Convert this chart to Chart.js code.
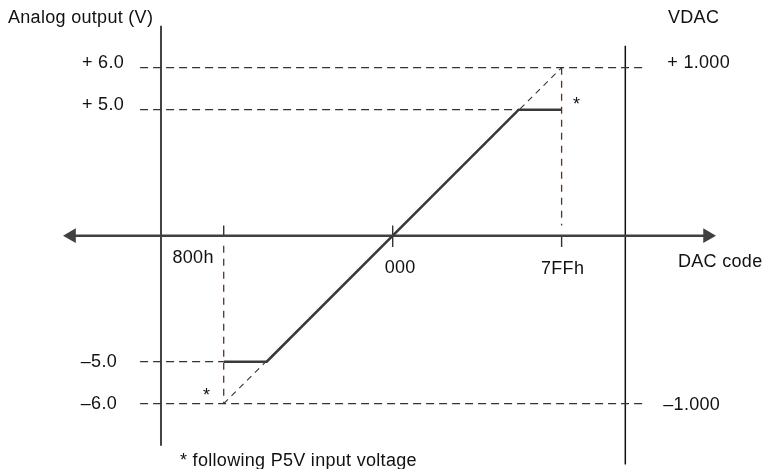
<!DOCTYPE html>
<html>
<head>
<meta charset="utf-8">
<script src="https://cdn.jsdelivr.net/npm/chart.js@4/dist/chart.umd.min.js"></script>
<style>
  html, body { margin: 0; padding: 0; background: #fff; }
  canvas { display: block; }
</style>
</head>
<body>
<canvas id="dacChart" width="766" height="469"></canvas>
<script>
// DAC code (12 bit, two's complement) -> analog output
const codeTicks = [-2048, 0, 2047];
const codeLabels = ['800h', '000', '7FFh'];
const voltLevels = [6, 5, -5, -6];
const voltLabels = ['+ 6.0', '+ 5.0', '\u20135.0', '\u20136.0'];
const vdacLevels = [6, -6];
const vdacLabels = ['+ 1.000', '\u20131.000'];

// real output, clamped at +/-5 V
const outputCodes = [-2048, -1527, 1527, 2047];
const outputVolts = [-5, -5, 5, 5];
// unclamped line (follows P5V)
const idealCodes = [-2048, 2047];
const idealVolts = [-6, 6];

// where the drawing frame sits, in code / volt units
const leftAxisCode = -2808;
const rightAxisCode = 2819;
const arrowCodes = [-3892, 3815];
const guideStartCode = -3061;
const guideEndCode = 3081;

// 0..5 V is drawn squeezed and 5..6 V stretched, like in the datasheet
function squash(v) {
    const a = Math.abs(v);
    const u = a <= 5 ? a * 0.6 : 3 + (a - 5);
    return v < 0 ? -u : u;
}
function unsquash(u) {
    const a = Math.abs(u);
    const v = a <= 3 ? a / 0.6 : 5 + (a - 3);
    return u < 0 ? -v : v;
}

class SchematicScale extends Chart.LinearScale {
    configure() {
        super.configure();
        this._startValue = squash(this.min);
        this._valueRange = squash(this.max) - squash(this.min);
    }
    getPixelForValue(value) {
        if (value === null) return NaN;
        return this.getPixelForDecimal((squash(value) - this._startValue) / this._valueRange);
    }
    getValueForPixel(pixel) {
        return unsquash(this._startValue + this.getDecimalForPixel(pixel) * this._valueRange);
    }
}
SchematicScale.id = 'schematic';
SchematicScale.defaults = Chart.LinearScale.defaults;
Chart.register(SchematicScale);

const pts = (xs, ys) => xs.map((x, i) => ({ x, y: ys[i] }));

const INK = '#3a3a3a';
const DASH = '#333333';
const BROWN = '#4e3a2c';

function line(data, color, width, dash) {
    return {
        data,
        showLine: true,
        borderColor: color,
        borderWidth: width,
        borderDash: dash || [],
        pointRadius: 0,
        fill: false,
        tension: 0,
    };
}

const datasets = [];

// transfer curve on top
datasets.push(line(pts(outputCodes, outputVolts), INK, 2.6));
datasets.push(line(pts(idealCodes, idealVolts), DASH, 1.1, [6, 5]));

// horizontal code axis with arrow heads
datasets.push({
    data: pts(arrowCodes, [0, 0]),
    showLine: true,
    borderColor: '#404040',
    borderWidth: 2.5,
    pointStyle: 'triangle',
    pointRadius: 8.5,
    pointRotation: [-90, 90],
    pointBackgroundColor: '#404040',
    pointBorderWidth: 0,
});

// tick marks on the code axis
datasets.push(line(pts([codeTicks[0], codeTicks[0]], [0.4, 0]), '#333', 1.4));
datasets.push(line(pts([codeTicks[1], codeTicks[1]], [0.4, -0.45]), '#333', 1.4));
datasets.push(line(pts([codeTicks[2], codeTicks[2]], [0, -0.45]), '#333', 1.4));

// vertical dashed guides down/up to the rails
datasets.push(line(pts([codeTicks[0], codeTicks[0]], [-0.4, -6]), BROWN, 1.3, [7, 6]));
datasets.push(line(pts([codeTicks[2], codeTicks[2]], [6, 0.4]), BROWN, 1.3, [7, 6]));

// horizontal dashed guides
datasets.push(line(pts([guideStartCode, guideEndCode], [6, 6]), DASH, 1.2, [8, 5]));
datasets.push(line(pts([guideStartCode, codeTicks[2]], [5, 5]), DASH, 1.2, [8, 5]));
datasets.push(line(pts([guideStartCode, codeTicks[0]], [-5, -5]), DASH, 1.2, [8, 5]));
datasets.push(line(pts([guideStartCode, guideEndCode], [-6, -6]), DASH, 1.2, [8, 5]));

// voltage axes
datasets.push(line(pts([leftAxisCode, leftAxisCode], [7.0, -7.0]), '#444', 2));
datasets.push(line(pts([rightAxisCode, rightAxisCode], [6.52, -7.45]), '#111', 1.5));

const FONT = '18px "Liberation Sans", Arial, sans-serif';

const labelPlugin = {
    id: 'schematicLabels',
    afterDraw(chart) {
        const { ctx } = chart;
        const x = chart.scales.x;
        const y = chart.scales.y;
        const ax = x.getPixelForValue(leftAxisCode);
        const rx = x.getPixelForValue(rightAxisCode);
        const y0 = y.getPixelForValue(0);

        ctx.save();
        ctx.font = FONT;
        ctx.letterSpacing = '0.3px';
        ctx.fillStyle = '#111';
        ctx.textBaseline = 'middle';

        ctx.textAlign = 'left';
        ctx.fillText('Analog output (V)', 8, 18);
        ctx.fillText('VDAC', 668, 18);

        // voltage labels, left side (upper ones sit a bit above their line)
        ctx.textAlign = 'right';
        voltLevels.forEach((v, i) => {
            const off = v > 0 ? 37 : 44;
            const dy = v > 0 ? -5 : 0;
            ctx.fillText(voltLabels[i], ax - off, y.getPixelForValue(v) + dy);
        });

        // VDAC labels, right side
        ctx.textAlign = 'left';
        vdacLevels.forEach((v, i) => {
            const off = v > 0 ? 42 : 38;
            const dy = v > 0 ? -5 : 1;
            ctx.fillText(vdacLabels[i], rx + off, y.getPixelForValue(v) + dy);
        });

        // code labels
        ctx.textAlign = 'right';
        ctx.fillText(codeLabels[0], x.getPixelForValue(codeTicks[0]) - 10, y0 + 22);
        ctx.textAlign = 'left';
        ctx.fillText(codeLabels[1], x.getPixelForValue(codeTicks[1]) - 8, y0 + 32);
        ctx.textAlign = 'center';
        ctx.fillText(codeLabels[2], x.getPixelForValue(codeTicks[2]) + 1, y0 + 33);
        ctx.textAlign = 'left';
        ctx.fillText('DAC code', 678, y0 + 26);

        // asterisks at the P5V limited ends
        ctx.textAlign = 'center';
        ctx.fillText('*', x.getPixelForValue(codeTicks[2]) + 15, y.getPixelForValue(5.2) + 4);
        ctx.fillText('*', x.getPixelForValue(codeTicks[0]) - 17, y.getPixelForValue(-5.75) + 3);

        ctx.textAlign = 'left';
        ctx.fillText('* following P5V input voltage', 180, 461);
        ctx.restore();
    }
};

new Chart(document.getElementById('dacChart'), {
    type: 'scatter',
    data: { datasets },
    options: {
        responsive: false,
        animation: false,
        events: [],
        layout: { padding: 0, autoPadding: false },
        plugins: {
            legend: { display: false },
            tooltip: { enabled: false },
        },
        scales: {
            x: { type: 'linear', display: false, min: -4759, max: 4524 },
            y: { type: 'schematic', display: false, min: -7.555, max: 7.612 },
        },
    },
    plugins: [labelPlugin],
});
</script>
</body>
</html>
